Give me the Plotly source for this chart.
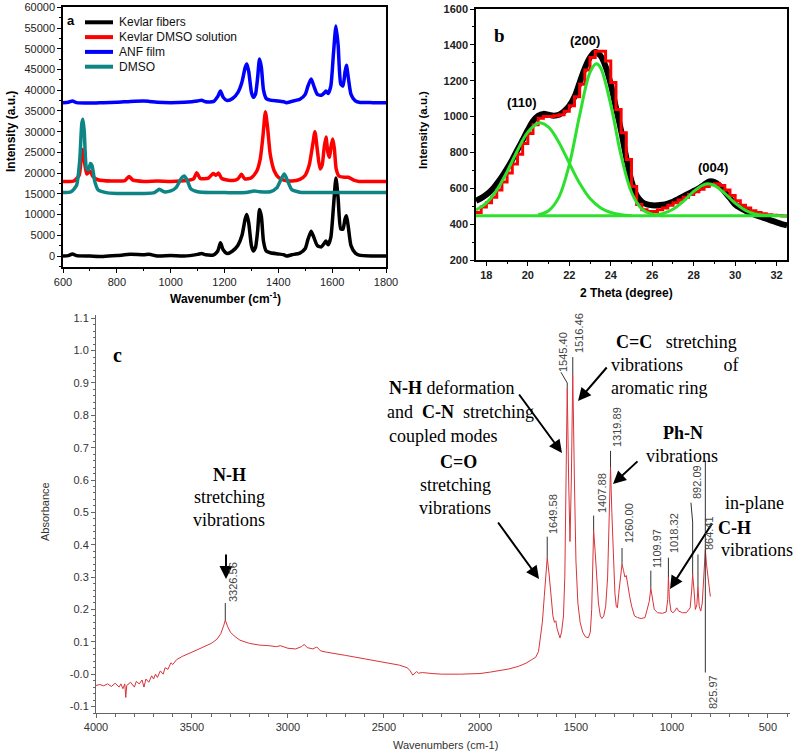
import plotly.graph_objects as go

W, H = 800, 755

# ---------------- Panel a: Raman spectra ----------------
kf_x = [600, 620, 635, 650, 700, 750, 800, 850, 900, 920, 950, 1000, 1050, 1100, 1115, 1130, 1160, 1175, 1185, 1195,
        1210, 1230, 1250, 1265, 1277, 1283, 1290, 1300, 1307, 1315, 1323, 1330, 1337, 1345, 1355, 1370, 1400, 1420,
        1430, 1450, 1480, 1500, 1510, 1522, 1532, 1545, 1560, 1570, 1577, 1585, 1595, 1605, 1614, 1622, 1632, 1640,
        1648, 1653, 1660, 1670, 1685, 1700, 1750, 1800]
kf_y = [0, 100, 500, 100, 0, -100, 100, 400, 300, 400, 0, 100, 0, 400, 600, 300, 300, 1200, 3200, 1500,
        600, 1200, 2600, 5000, 9000, 10000, 8000, 2500, 1200, 2000, 6000, 11200, 9500, 3500, 1200, 800, 500, 300,
        0, 300, 700, 1800, 4000, 6000, 4500, 2500, 2200, 3000, 3600, 2700, 4500, 12000, 18800, 14000, 6500, 6500,
        9000, 9700, 7000, 2500, 800, 200, 0, 0]

anf_x = kf_x
anf_y = [37000, 37100, 37400, 37000, 36900, 37000, 37100, 37300, 37400, 37300, 37100, 37000, 37100, 37400, 37600,
         37200, 37300, 38500, 39800, 38300, 37500, 38000, 39500, 42000, 45500, 46300, 44500, 39500, 38300, 39000,
         43000, 47500, 45500, 40000, 38000, 37600, 37400, 37200, 37000, 37300, 37800, 39000, 41000, 42700, 41000,
         39000, 38800, 39300, 39800, 39200, 41000, 49000, 55500, 51000, 41500, 41000, 44500, 46000, 43000, 39000,
         37500, 37100, 37000, 37000]

kds_x = [600, 640, 660, 668, 673, 678, 688, 695, 702, 710, 730, 780, 830, 845, 860, 900, 950, 1000, 1060, 1085,
         1097, 1110, 1140, 1158, 1168, 1178, 1190, 1230, 1250, 1263, 1275, 1300, 1320, 1333, 1343, 1352, 1360, 1370,
         1385, 1400, 1420, 1450, 1480, 1500, 1515, 1528, 1536, 1545, 1555, 1563, 1570, 1577, 1584, 1590, 1596, 1602,
         1608, 1615, 1625, 1645, 1660, 1680, 1700, 1800]
kds_y = [18000, 18100, 19500, 24000, 25700, 23500, 19800, 20200, 20400, 19300, 18400, 18100, 18200, 19200, 18300,
         18000, 18100, 18000, 18200, 18600, 20100, 18700, 18800, 19900, 19500, 20000, 18700, 18200, 18600, 19700,
         18600, 18900, 20500, 23500, 29000, 34800, 31000, 24500, 20500, 19000, 18300, 18100, 18500, 19500, 22000,
         27000, 30000, 25500, 21000, 22000, 26000, 28700, 25000, 23800, 26500, 28200, 26000, 21000, 19300, 19000,
         19000, 18300, 18000, 18000]

dmso_x = [600, 630, 650, 662, 670, 674, 679, 688, 695, 702, 708, 718, 730, 760, 800, 850, 900, 940, 958, 975, 1000,
          1020, 1040, 1050, 1060, 1075, 1100, 1150, 1200, 1280, 1310, 1330, 1370, 1395, 1410, 1422, 1432, 1450, 1480,
          1550, 1800]
dmso_y = [15300, 15500, 17000, 23000, 32000, 33000, 30000, 21000, 20800, 22300, 21800, 18000, 16000, 15300, 15100,
          15100, 15100, 15300, 16100, 15500, 15700, 16500, 18800, 19300, 18500, 16200, 15500, 15300, 15300, 15300,
          15700, 15500, 15500, 16500, 18500, 19800, 18500, 16000, 15400, 15300, 15300]

a_names = ["Kevlar fibers", "Kevlar DMSO solution", "ANF film", "DMSO"]
a_colors = ["#000000", "#ff0000", "#0000ff", "#0e8585"]

# ---------------- Panel b: XRD ----------------
xrd_x = [17.5, 17.75, 18, 18.25, 18.5, 18.75, 19, 19.25, 19.5, 19.75, 20, 20.25, 20.5, 20.75, 21, 21.25, 21.5, 21.75,
         22, 22.25, 22.5, 22.75, 23, 23.25, 23.5, 23.75, 24, 24.25, 24.5, 24.75, 25, 25.25, 25.5, 25.75, 26, 26.25,
         26.5, 26.75, 27, 27.25, 27.5, 27.75, 28, 28.25, 28.5, 28.75, 29, 29.25, 29.5, 29.75, 30, 30.25, 30.5, 30.75,
         31, 31.25, 31.5, 31.75, 32, 32.25, 32.5]
xrd_y = [530, 545, 565, 590, 625, 665, 710, 760, 815, 870, 925, 975, 1005, 1015, 1010, 1005, 1010, 1030,
         1060, 1110, 1190, 1270, 1330, 1360, 1340, 1280, 1180, 1050, 920, 770, 640, 560, 525, 510, 505, 505,
         508, 515, 525, 540, 555, 570, 585, 600, 620, 638, 635, 615, 580, 545, 510, 490, 475, 462,
         450, 440, 430, 420, 410, 400, 393]
fit_y = [465, 495, 520, 550, 590, 635, 685, 735, 790, 850, 905, 955, 990, 1000, 1000, 1005, 1010, 1030,
         1060, 1110, 1180, 1260, 1330, 1365, 1365, 1310, 1190, 1040, 910, 760, 610, 510, 480, 470, 470, 480,
         490, 505, 520, 535, 550, 565, 580, 595, 610, 620, 625, 615, 590, 560, 530, 505, 490, 475,
         465, 458, 452, 450, 448, 446, 445]

g110_x = [17.5, 18, 18.5, 19, 19.5, 20, 20.5, 20.6, 21, 21.5, 22, 22.5, 23, 23.5, 24, 24.5, 25]
g110_y = [479, 519, 590, 693, 811, 913, 963, 965, 941, 856, 740, 628, 543, 492, 465, 453, 447]
g200_x = [20.5, 21, 21.5, 22, 22.5, 23, 23.3, 23.5, 24, 24.5, 25, 25.5, 26, 26.5]
g200_y = [452, 475, 551, 732, 1008, 1247, 1295, 1274, 1065, 782, 578, 484, 455, 447]
g004_x = [26, 26.5, 27, 27.5, 28, 28.5, 28.7, 29, 29.5, 30, 30.5, 31, 31.5, 32]
g004_y = [450, 459, 483, 527, 583, 621, 625, 616, 572, 517, 477, 456, 449, 447]
gbase_x = [17.5, 32.5]
gbase_y = [447, 447]

# ---------------- Panel c: FTIR ----------------
ir_x = [4000, 3980, 3960, 3940, 3920, 3900, 3880, 3870, 3860, 3850, 3845, 3840, 3820, 3800, 3790, 3775, 3760, 3750,
        3740, 3725, 3710, 3700, 3690, 3680, 3665, 3650, 3640, 3625, 3610, 3600, 3580, 3550, 3500, 3450, 3400, 3370,
        3350, 3335, 3326.56, 3315, 3300, 3280, 3250, 3200, 3150, 3100, 3060, 3040, 3000, 2960, 2930, 2915, 2900,
        2870, 2850, 2830, 2800, 2700, 2600, 2500, 2420, 2380, 2365, 2350, 2340, 2330, 2320, 2300, 2250, 2200, 2100,
        2000, 1950, 1900, 1850, 1800, 1760, 1730, 1710, 1695, 1685, 1675, 1665, 1655, 1649.58, 1640, 1630, 1620,
        1612, 1605, 1598, 1590, 1583, 1575, 1565, 1558, 1552, 1545.40, 1538, 1531, 1524, 1516.46, 1508, 1500, 1490,
        1478, 1465, 1450, 1435, 1425, 1418, 1412, 1407.88, 1400, 1392, 1383, 1373, 1365, 1355, 1345, 1335, 1328,
        1319.89, 1313, 1305, 1297, 1290, 1284, 1277, 1268, 1260, 1252, 1245, 1238, 1230, 1220, 1210, 1195, 1180,
        1160, 1140, 1128, 1118, 1109.97, 1102, 1092, 1075, 1050, 1030, 1022, 1018.32, 1013, 1005, 995, 985, 975,
        965, 945, 925, 905, 897, 892.09, 885, 878, 870, 864.41, 858, 850, 842, 835, 829, 825.97, 820, 812, 806, 800]
ir_y = [-0.035, -0.032, -0.036, -0.030, -0.038, -0.028, -0.040, -0.030, -0.045, -0.030, -0.072, -0.035, -0.025,
        -0.040, -0.022, -0.030, -0.018, -0.040, -0.015, -0.025, -0.005, -0.015, 0.000, -0.010, 0.010, 0.000, 0.020,
        0.015, 0.035, 0.030, 0.045, 0.055, 0.068, 0.082, 0.095, 0.108, 0.125, 0.150, 0.167, 0.148, 0.130, 0.118,
        0.105, 0.095, 0.090, 0.088, 0.085, 0.088, 0.080, 0.078, 0.085, 0.092, 0.082, 0.078, 0.084, 0.072, 0.068,
        0.058, 0.048, 0.038, 0.028, 0.020, 0.012, -0.003, 0.002, 0.008, 0.003, 0.005, 0.002, 0.000, 0.000, 0.002,
        0.006, 0.010, 0.016, 0.024, 0.034, 0.045, 0.052, 0.070, 0.110, 0.160, 0.240, 0.330, 0.360, 0.310, 0.230,
        0.180, 0.160, 0.165, 0.140, 0.120, 0.112, 0.130, 0.180, 0.300, 0.600, 0.885, 0.600, 0.410, 0.600, 0.925,
        0.600, 0.350, 0.220, 0.160, 0.130, 0.115, 0.113, 0.130, 0.200, 0.320, 0.445, 0.380, 0.300, 0.220, 0.180,
        0.172, 0.180, 0.210, 0.300, 0.450, 0.640, 0.500, 0.360, 0.250, 0.210, 0.205, 0.250, 0.310, 0.340, 0.320,
        0.300, 0.305, 0.270, 0.240, 0.210, 0.180, 0.175, 0.172, 0.175, 0.200, 0.225, 0.265, 0.230, 0.200, 0.190,
        0.188, 0.192, 0.230, 0.300, 0.230, 0.195, 0.190, 0.195, 0.205, 0.195, 0.190, 0.190, 0.205, 0.260, 0.310,
        0.260, 0.200, 0.215, 0.270, 0.210, 0.195, 0.220, 0.300, 0.370, 0.385, 0.340, 0.300, 0.260, 0.240]

peak_wn = [3326.56, 1649.58, 1545.40, 1516.46, 1407.88, 1319.89, 1260.00, 1109.97, 1018.32, 892.09, 864.41, 825.97]
peak_txt = ["3326.56", "1649.58", "1545.40", "1516.46", "1407.88", "1319.89", "1260.00", "1109.97", "1018.32",
            "892.09", "864.41", "825.97"]
c_yticks = [-0.1, 0.0, 0.1, 0.2, 0.3, 0.4, 0.5, 0.6, 0.7, 0.8, 0.9, 1.0, 1.1]
c_yticktext = ["-0.1", "-0.0", "0.1", "0.2", "0.3", "0.4", "0.5", "0.6", "0.7", "0.8", "0.9", "1.0", "1.1"]


def pp(x, y):
    return x / W, 1 - y / H


SANS = "Liberation Sans, Arial, sans-serif"
SERIF = "Liberation Serif, Times New Roman, serif"

fig = go.Figure()

for xs, ys, nm, col in [(kf_x, kf_y, a_names[0], a_colors[0]), (kds_x, kds_y, a_names[1], a_colors[1]),
                        (anf_x, anf_y, a_names[2], a_colors[2]), (dmso_x, dmso_y, a_names[3], a_colors[3])]:
    fig.add_trace(go.Scatter(x=xs, y=ys, name=nm, mode="lines",
                             line=dict(color=col, width=3.5, shape="spline", smoothing=0.6),
                             xaxis="x", yaxis="y", showlegend=False))

fig.add_trace(go.Scatter(x=xrd_x, y=xrd_y, mode="lines", line=dict(color="#000000", width=6, shape="spline"),
                         xaxis="x2", yaxis="y2", showlegend=False))
fig.add_trace(go.Scatter(x=xrd_x, y=fit_y, mode="lines", line=dict(color="#ff0000", width=3, shape="hv"),
                         xaxis="x2", yaxis="y2", showlegend=False))
for gx, gy in [(g110_x, g110_y), (g200_x, g200_y), (g004_x, g004_y), (gbase_x, gbase_y)]:
    fig.add_trace(go.Scatter(x=gx, y=gy, mode="lines", line=dict(color="#2ee02e", width=3, shape="spline"),
                             xaxis="x2", yaxis="y2", showlegend=False))

fig.add_trace(go.Scatter(x=ir_x, y=ir_y, mode="lines", line=dict(color="#d8343a", width=1),
                         xaxis="x3", yaxis="y3", showlegend=False))

ax_common = dict(showgrid=False, zeroline=False, showline=True, ticks="outside", automargin=False)

fig.update_layout(
    template="none",
    width=W, height=H, margin=dict(l=0, r=0, t=0, b=0, pad=0, autoexpand=False),
    paper_bgcolor="white", plot_bgcolor="rgba(0,0,0,0)",
    showlegend=False, hovermode=False,
    xaxis=dict(domain=[63 / W, 386 / W], range=[600, 1800], anchor="y", dtick=200, linecolor="#000", linewidth=1.5,
               mirror=True, ticklen=4, tickcolor="#000", minor=dict(dtick=100, ticklen=2, tickcolor="#000"),
               tickfont=dict(family=SANS, size=11, color="#222"), **ax_common),
    yaxis=dict(domain=[1 - 267 / H, 1 - 7.3 / H], range=[-2650, 60000], anchor="x", dtick=5000, tickformat="d",
               linecolor="#000", linewidth=1.5, mirror=True, ticklen=4, tickcolor="#000",
               minor=dict(dtick=2500, ticklen=2, tickcolor="#000"),
               tickfont=dict(family=SANS, size=11, color="#222"), **ax_common),
    xaxis2=dict(domain=[476 / W, 787 / W], range=[17.5, 32.5], anchor="y2", dtick=2, linecolor="#000", linewidth=1.5,
                mirror=True, ticklen=4, tickcolor="#000", minor=dict(dtick=1, ticklen=2, tickcolor="#000"),
                tickfont=dict(family=SANS, size=11, color="#222", weight="bold"), **ax_common),
    yaxis2=dict(domain=[1 - 260 / H, 1 - 9 / H], range=[200, 1600], anchor="x2", dtick=200, linecolor="#000",
                linewidth=1.5, mirror=True, ticklen=4, tickcolor="#000",
                minor=dict(dtick=100, ticklen=2, tickcolor="#000"),
                tickfont=dict(family=SANS, size=11, color="#222", weight="bold"), **ax_common),
    xaxis3=dict(domain=[96 / W, 790 / W], range=[4000, 385], anchor="y3", dtick=500, linecolor="#666", linewidth=1,
                ticklen=4, tickcolor="#666", minor=dict(dtick=100, ticklen=3, tickcolor="#666"),
                tickfont=dict(family=SANS, size=11, color="#333"), **ax_common),
    yaxis3=dict(domain=[1 - 713 / H, 1 - 315 / H], range=[-0.12, 1.11], anchor="x3", tickmode="array",
                tickvals=c_yticks, ticktext=c_yticktext, linecolor="#666", linewidth=1, ticklen=4, tickcolor="#666",
                minor=dict(tickmode="linear", tick0=0, dtick=0.02, ticklen=2, tickcolor="#666"),
                tickfont=dict(family=SANS, size=11, color="#333"), **ax_common),
)

ann = []
shapes = []


def txt(x, y, s, size, family=SANS, color="#000", angle=0, xanchor="center"):
    px_, py_ = pp(x, y)
    ann.append(dict(x=px_, y=py_, xref="paper", yref="paper", text=s, showarrow=False, textangle=angle,
                    xanchor=xanchor, yanchor="middle", font=dict(family=family, size=size, color=color)))


def arrow(tx, ty, hx, hy):
    px_, py_ = pp(hx, hy)
    ann.append(dict(x=px_, y=py_, xref="paper", yref="paper", text="", showarrow=True, ax=tx - hx, ay=ty - hy,
                    arrowhead=2, arrowsize=1.3, arrowwidth=2, arrowcolor="#000", standoff=0, startstandoff=0))


# legend of panel a (line sample + label)
for i, (nm, col) in enumerate(zip(a_names, a_colors)):
    yy = 22.3 + 14.8 * i
    x0, y0 = pp(85, yy)
    x1, _ = pp(113, yy)
    shapes.append(dict(type="line", xref="paper", yref="paper", x0=x0, y0=y0, x1=x1, y1=y0,
                       line=dict(color=col, width=4)))
    txt(117, yy, nm, 12, color="#111", xanchor="left")

# axis titles
txt(226, 298, "<b>Wavenumber (cm<sup>-1</sup>)</b>", 12)
txt(11, 132, "<b>Intensity (a.u.)</b>", 12, angle=-90)
txt(626, 293, "<b>2 Theta (degree)</b>", 12)
txt(423, 130, "<b>Intensity (a.u.)</b>", 11.5, angle=-90)
txt(445, 745, "Wavenumbers (cm-1)", 11, color="#333")
txt(45, 512, "Absorbance", 11, color="#333", angle=-90)

# panel letters
txt(71, 21, "<b>a</b>", 13)
txt(499, 35, "<b>b</b>", 19, family=SERIF)
txt(117, 355, "<b>c</b>", 20, family=SERIF)

# panel b reflections
txt(522, 103, "<b>(110)</b>", 13)
txt(585, 40, "<b>(200)</b>", 13)
txt(713, 167, "<b>(004)</b>", 13)

# panel c annotations
S = 18
txt(229, 475, "<b>N-H</b>", S, SERIF)
txt(229, 497, "stretching", S, SERIF)
txt(229, 520, "vibrations", S, SERIF)
arrow(226, 553, 226, 579)

txt(387, 388, "<b>N-H</b> deformation", S, SERIF, xanchor="left")
txt(385, 412, "and\u00a0\u00a0<b>C-N</b>\u00a0\u00a0stretching", S, SERIF, xanchor="left")
txt(387, 436, "coupled modes", S, SERIF, xanchor="left")
arrow(518, 393, 562, 453)

txt(614, 342, "<b>C=C</b>\u00a0\u00a0\u00a0stretching", S, SERIF, xanchor="left")
txt(609, 365, "vibrations\u00a0\u00a0\u00a0\u00a0\u00a0\u00a0\u00a0\u00a0\u00a0of", S, SERIF, xanchor="left")
txt(609, 388, "aromatic ring", S, SERIF, xanchor="left")
arrow(608, 366, 578, 401)

txt(458, 462, "<b>C=O</b>", S, SERIF)
txt(455, 485, "stretching", S, SERIF)
txt(455, 508, "vibrations", S, SERIF)
arrow(497, 521, 539, 579)

txt(683, 433, "<b>Ph-N</b>", S, SERIF)
txt(682, 456, "vibrations", S, SERIF)
arrow(639, 460, 613, 484)

txt(754, 503, "in-plane", S, SERIF)
txt(734, 528, "<b>C-H</b>", S, SERIF)
txt(757, 550, "vibrations", S, SERIF)
arrow(713, 522, 670, 589)

# peak labels (rotated) - text centres in pixels
lab_pos = [(233, 582), (553, 514), (563, 352), (579, 333), (602, 493), (617, 427), (629, 523), (657, 549),
           (674, 533), (697, 482), (709, 533), (713, 692)]
for t, (x, y) in zip(peak_txt, lab_pos):
    txt(x, y, t, 11, color="#444", angle=-90)

# peak marker lines (data coordinates of panel c)
seg = [
    (3326.56, 0.167, 3326.56, 0.22), (1649.58, 0.36, 1649.58, 0.425),
    (1545.40, 0.885, 1545.40, 0.90), (1545.40, 0.90, 1578, 0.933),
    (1516.46, 0.925, 1516.46, 0.98), (1407.88, 0.445, 1407.88, 0.49),
    (1319.89, 0.64, 1319.89, 0.69), (1260.00, 0.34, 1260.00, 0.39),
    (1109.97, 0.265, 1109.97, 0.32), (1018.32, 0.30, 1018.32, 0.36),
    (892.09, 0.31, 892.09, 0.47), (892.09, 0.47, 901, 0.53),
    (864.41, 0.27, 864.41, 0.37), (825.97, 0.005, 825.97, 0.66),
]
for x0, y0, x1, y1 in seg:
    shapes.append(dict(type="line", xref="x3", yref="y3", x0=x0, y0=y0, x1=x1, y1=y1,
                       line=dict(color="#333", width=1)))

fig.update_layout(annotations=ann, shapes=shapes)

fig.write_html("out.html", config={"displayModeBar": False},
               post_script="document.body.style.margin='0px';document.body.style.padding='0px';")
